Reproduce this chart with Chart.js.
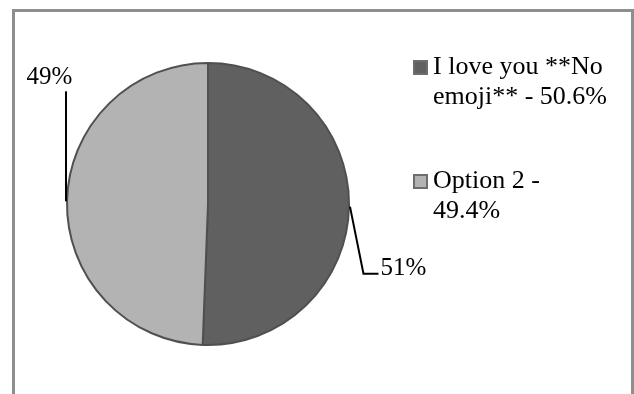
<!DOCTYPE html>
<html>
<head>
<meta charset="utf-8">
<script src="https://cdn.jsdelivr.net/npm/chart.js@4.4.0/dist/chart.umd.min.js"></script>
<style>
  html, body { margin: 0; padding: 0; background: #fff; }
  #wrap { position: relative; width: 634px; height: 394px; overflow: hidden; }
  #frame {
    position: absolute; left: 12px; top: 9px; width: 622px; height: 400px;
    box-sizing: border-box; border: 3px solid #8e8e8e;
  }
  #pie { position: absolute; left: 0; top: 0; }
</style>
</head>
<body>
<div id="wrap">
  <div id="frame"></div>
  <canvas id="pie" width="634" height="394"></canvas>
</div>
<script>
// survey answers and their share of votes (%)
const categories = ['I love you **No emoji**', 'Option 2'];
const shares = [50.6, 49.4];

const sliceColors = ['#606060', '#b3b3b3'];
const serif = '"Liberation Serif", "Times New Roman", Times, serif';

// leader line bends (relative to the slice's outer midpoint) and label spot
const leaders = [
  { path: [[13.5, 67], [28.5, 67]], label: [30.5, 68], align: 'left' },
  { path: [[0, -110]], label: [-16.5, -117.5], align: 'center' }
];

// percentage labels with leader lines
const calloutPlugin = {
  id: 'callouts',
  afterDatasetsDraw(chart) {
    const ctx = chart.ctx;
    const meta = chart.getDatasetMeta(0);
    const values = chart.data.datasets[0].data;
    const total = values.reduce((a, b) => a + b, 0);

    ctx.save();
    ctx.strokeStyle = '#000';
    ctx.fillStyle = '#000';
    ctx.lineWidth = 2;
    ctx.font = '25px ' + serif;
    ctx.textBaseline = 'alphabetic';

    meta.data.forEach((arc, i) => {
      const p = arc.getProps(['x', 'y', 'startAngle', 'endAngle', 'outerRadius'], true);
      const mid = (p.startAngle + p.endAngle) / 2;
      const ax = p.x + Math.cos(mid) * (p.outerRadius + 1);
      const ay = p.y + Math.sin(mid) * (p.outerRadius + 1);
      const lead = leaders[i];

      ctx.beginPath();
      ctx.moveTo(ax, ay);
      lead.path.forEach(([dx, dy]) => ctx.lineTo(ax + dx, ay + dy));
      ctx.stroke();

      ctx.textAlign = lead.align;
      const pct = Math.round(values[i] / total * 100) + '%';
      ctx.fillText(pct, ax + lead.label[0], ay + lead.label[1]);
    });
    ctx.restore();
  }
};

// legend on the right, wrapping long entries
const sideLegend = {
  id: 'sideLegend',
  afterDraw(chart) {
    const ctx = chart.ctx;
    const labels = chart.data.labels;
    const values = chart.data.datasets[0].data;
    const x = 414, textX = 433, firstBaseline = 74;
    const lineGap = 30, itemGap = 114, maxWidth = 180, box = 13;

    ctx.save();
    ctx.font = '26px ' + serif;
    ctx.textAlign = 'left';
    ctx.textBaseline = 'alphabetic';

    labels.forEach((name, i) => {
      const base = firstBaseline + i * itemGap;
      ctx.fillStyle = sliceColors[i];
      ctx.strokeStyle = '#6e6e6e';
      ctx.lineWidth = 2;
      ctx.fillRect(x, base - box, box, box);
      ctx.strokeRect(x, base - box, box, box);

      // word wrap
      const words = (name + ' - ' + values[i] + '%').split(' ');
      const lines = [];
      let line = '';
      words.forEach(w => {
        const test = line ? line + ' ' + w : w;
        if (line && ctx.measureText(test).width > maxWidth) {
          lines.push(line);
          line = w;
        } else {
          line = test;
        }
      });
      lines.push(line);

      ctx.fillStyle = '#000';
      lines.forEach((l, k) => ctx.fillText(l, textX, base + k * lineGap));
    });
    ctx.restore();
  }
};

function drawPie() {
  new Chart(document.getElementById('pie'), {
    type: 'pie',
    data: {
      labels: categories,
      datasets: [{
        data: shares,
        backgroundColor: sliceColors,
        borderColor: '#505050',
        borderWidth: 2
      }]
    },
    options: {
      responsive: false,
      animation: false,
      layout: { padding: { left: 66, top: 62, right: 284, bottom: 48 } },
      plugins: {
        legend: { display: false },
        tooltip: { enabled: false }
      }
    },
    plugins: [calloutPlugin, sideLegend]
  });
}

document.fonts.load('25px "Liberation Serif"').then(drawPie, drawPie);
</script>
</body>
</html>
